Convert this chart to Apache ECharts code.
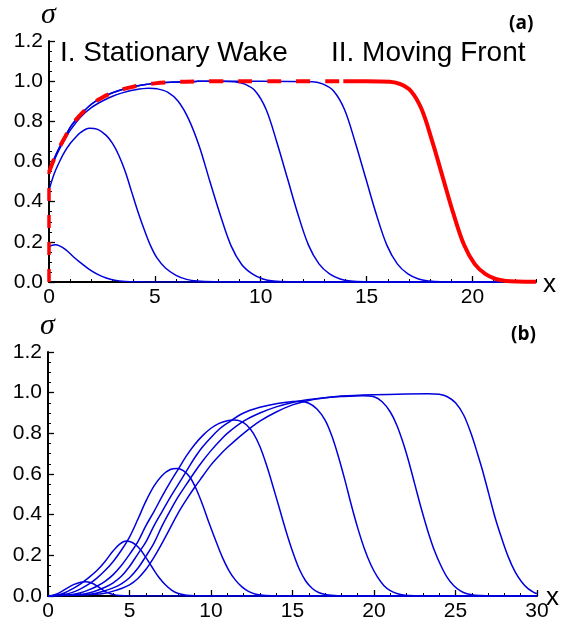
<!DOCTYPE html>
<html>
<head>
<meta charset="utf-8">
<script src="https://cdn.jsdelivr.net/npm/echarts@6/dist/echarts.min.js"></script>
<style>
  html, body { margin: 0; padding: 0; background: #ffffff; }
  #chart { width: 570px; height: 627px; }
</style>
</head>
<body>
<div id="chart"></div>
<script>
// ---------- panel (a): stationary wake and moving front ----------
const topMajorX = [0, 5, 10, 15, 20];
const topMinorX = [0,1,2,3,4,5,6,7,8,9,10,11,12,13,14,15,16,17,18,19,20,21,22,23];

const wake1 = [[0,0.175],[0.15,0.183],[0.3,0.186],[0.5,0.18],[0.8,0.16],[1.15,0.126],[1.5,0.095],[1.9,0.063],[2.3,0.038],[2.7,0.02],[3.1,0.009],[3.6,0.003],[4.2,0.001],[5,0],[23,0]];
const wake2 = [[0,0.457],[0.25,0.54],[0.5,0.60],[0.75,0.65],[1.0,0.69],[1.25,0.72],[1.5,0.745],[1.9,0.766],[2.3,0.76],[2.7,0.73],[3.0,0.69],[3.3,0.63],[3.6,0.55],[3.9,0.45],[4.2,0.35],[4.5,0.26],[4.8,0.18],[5.1,0.12],[5.5,0.07],[6.0,0.033],[6.5,0.013],[7.0,0.005],[8,0.001],[9,0],[23,0]];
const wake3 = [[0,0.54],[0.25,0.607],[0.5,0.663],[0.75,0.71],[1.0,0.755],[1.5,0.822],[2.0,0.868],[2.5,0.9],[3.0,0.925],[3.5,0.943],[4.0,0.956],[4.7,0.965],[5.1,0.962],[5.6,0.945],[6.1,0.9],[6.6,0.81],[7.1,0.675],[7.6,0.5],[8.1,0.33],[8.6,0.18],[9.1,0.087],[9.6,0.04],[10.1,0.015],[10.6,0.005],[11.5,0.001],[12.5,0],[23,0]];
const wake4 = [[0,0.547],[0.25,0.615],[0.5,0.672],[0.75,0.72],[1.0,0.77],[1.25,0.805],[1.5,0.835],[2.0,0.885],[2.5,0.918],[3.0,0.942],[3.5,0.96],[4.0,0.973],[4.5,0.982],[5.0,0.989],[6.0,0.996],[7.0,0.999],[8.0,1.0],[8.75,0.997],[9.25,0.985],[9.75,0.95],[10.25,0.86],[10.75,0.70],[11.25,0.52],[11.75,0.34],[12.25,0.185],[12.75,0.09],[13.25,0.04],[13.75,0.015],[14.25,0.005],[15,0.001],[16,0],[23,0]];
const wake5 = [[0,0.547],[0.25,0.615],[0.5,0.672],[0.75,0.72],[1.0,0.77],[1.25,0.805],[1.5,0.835],[2.0,0.885],[2.5,0.918],[3.0,0.942],[3.5,0.96],[4.0,0.973],[4.5,0.982],[5.0,0.989],[6.0,0.996],[7.0,0.999],[8.0,1.0],[10,1.0],[12.45,0.997],[12.95,0.985],[13.45,0.95],[13.95,0.86],[14.45,0.70],[14.95,0.52],[15.45,0.34],[15.95,0.185],[16.45,0.09],[16.95,0.04],[17.45,0.015],[17.95,0.005],[18.5,0.001],[19.5,0],[23,0]];
const wakeEdge = [[0,0],[0,0.547]];
const wakeProfile = [[0,0.547],[0.25,0.615],[0.5,0.672],[0.75,0.72],[1.0,0.77],[1.25,0.805],[1.5,0.835],[2.0,0.885],[2.5,0.918],[3.0,0.942],[3.5,0.96],[4.0,0.973],[4.5,0.982],[5.0,0.989],[6.0,0.996],[7.0,0.999],[8.0,1.0],[10,1.0],[12,1.0],[13.9,1.0]];
const movingFront = [[13.9,1.0],[15,1.0],[16.1,0.997],[16.6,0.985],[17.1,0.95],[17.6,0.86],[18.1,0.70],[18.6,0.52],[19.1,0.34],[19.6,0.185],[20.1,0.09],[20.6,0.04],[21.1,0.015],[21.6,0.005],[22.1,0.002],[23,0.001]];

// ---------- panel (b): growing pulse ----------
const pulse1 = [[0,0],[0.4,0.006],[0.8,0.02],[1.2,0.04],[1.6,0.057],[2.0,0.068],[2.3,0.07],[2.6,0.066],[3.0,0.05],[3.4,0.028],[3.8,0.012],[4.2,0.004],[4.8,0.001],[5.5,0],[30,0]];
const pulse2 = [[0,0],[0.5,0.004],[1.0,0.015],[1.5,0.035],[2.0,0.06],[2.5,0.09],[3.0,0.125],[3.5,0.17],[4.0,0.222],[4.4,0.255],[4.8,0.27],[5.2,0.262],[5.6,0.235],[6.0,0.19],[6.4,0.14],[6.8,0.092],[7.2,0.055],[7.6,0.028],[8.0,0.012],[8.5,0.004],[9,0.001],[10,0],[30,0]];
const pulse3 = [[0,0],[1,0.008],[1.5,0.018],[2.0,0.035],[2.5,0.058],[3.0,0.088],[3.5,0.125],[4.0,0.17],[4.5,0.225],[5.0,0.29],[5.5,0.375],[6.0,0.465],[6.5,0.54],[7.0,0.593],[7.5,0.622],[7.9,0.627],[8.3,0.617],[8.7,0.585],[9.1,0.525],[9.5,0.445],[9.9,0.355],[10.3,0.27],[10.7,0.19],[11.1,0.125],[11.5,0.078],[11.9,0.045],[12.3,0.023],[12.7,0.01],[13.2,0.004],[14,0.001],[15,0],[30,0]];
const pulse4 = [[0,0],[1.5,0.008],[2.0,0.016],[2.5,0.03],[3.0,0.048],[3.5,0.072],[4.0,0.105],[4.5,0.15],[5.0,0.205],[5.5,0.265],[6.0,0.345],[6.5,0.415],[7.0,0.49],[7.5,0.56],[8.0,0.625],[8.5,0.69],[9.0,0.745],[9.5,0.79],[10.0,0.825],[10.5,0.849],[11.0,0.862],[11.4,0.865],[11.8,0.86],[12.2,0.84],[12.6,0.80],[13.0,0.735],[13.4,0.645],[13.8,0.54],[14.2,0.43],[14.6,0.32],[15.0,0.22],[15.4,0.135],[15.8,0.075],[16.2,0.038],[16.6,0.017],[17.1,0.006],[17.8,0.001],[18.5,0],[30,0]];
const pulse5 = [[0,0],[2.0,0.008],[2.5,0.015],[3.0,0.027],[3.5,0.043],[4.0,0.065],[4.5,0.097],[5.0,0.145],[5.5,0.205],[6.0,0.265],[6.5,0.345],[7.0,0.415],[7.5,0.485],[8.0,0.55],[8.5,0.615],[9.0,0.68],[9.5,0.735],[10.0,0.78],[10.5,0.82],[11.0,0.85],[12.0,0.9],[13.0,0.928],[14.0,0.946],[15.0,0.956],[15.46,0.958],[16.0,0.948],[16.5,0.92],[17.0,0.865],[17.4,0.79],[17.8,0.69],[18.2,0.575],[18.6,0.45],[19.0,0.335],[19.4,0.235],[19.8,0.155],[20.2,0.095],[20.6,0.052],[21.0,0.026],[21.4,0.012],[21.9,0.004],[22.5,0.001],[23.5,0],[30,0]];
const pulse6 = [[0,0],[2.5,0.008],[3.0,0.015],[3.5,0.026],[4.0,0.04],[4.5,0.06],[5.0,0.09],[5.5,0.135],[6.0,0.195],[6.5,0.26],[7.0,0.345],[7.5,0.42],[8.0,0.49],[8.5,0.55],[9.0,0.61],[9.5,0.665],[10.0,0.715],[10.5,0.76],[11.0,0.8],[12.0,0.86],[13.0,0.9],[14.0,0.93],[15.0,0.952],[16.0,0.966],[17.0,0.975],[18.0,0.981],[19.3,0.985],[20.0,0.98],[20.5,0.955],[21.0,0.905],[21.4,0.84],[21.8,0.75],[22.1,0.67],[22.5,0.55],[22.9,0.43],[23.3,0.32],[23.7,0.225],[24.1,0.15],[24.5,0.09],[24.9,0.05],[25.3,0.025],[25.7,0.011],[26.2,0.004],[27,0.001],[28,0],[30,0]];
const pulse7 = [[0,0],[3.0,0.008],[3.5,0.014],[4.0,0.024],[4.5,0.037],[5.0,0.055],[5.5,0.085],[6.0,0.13],[6.5,0.19],[7.0,0.26],[7.5,0.335],[8.0,0.41],[8.5,0.475],[9.0,0.535],[9.5,0.59],[10.0,0.645],[10.5,0.69],[11.0,0.73],[12.0,0.8],[13.0,0.86],[14.0,0.905],[15.0,0.94],[16.0,0.962],[17.0,0.975],[18.0,0.983],[20.0,0.99],[22.0,0.994],[23.3,0.995],[24.0,0.992],[24.5,0.98],[25.0,0.95],[25.5,0.89],[25.95,0.8],[26.35,0.7],[26.65,0.62],[27.05,0.5],[27.45,0.38],[27.85,0.28],[28.25,0.19],[28.65,0.12],[29.05,0.07],[29.45,0.036],[29.85,0.016],[30,0.012]];

const FONT = "'Liberation Sans', Arial, sans-serif";
const BLUE = '#0000dd';
const RED = '#ff0000';

const chart = echarts.init(document.getElementById('chart'), null, { renderer: 'canvas' });

function blueLine(name, data, xi, yi) {
  return {
    name: name, type: 'line', data: data, xAxisIndex: xi, yAxisIndex: yi,
    smooth: 0.35, symbol: 'none', silent: true,
    lineStyle: { color: BLUE, width: 1.5 }
  };
}

const majorTickStyle = { color: '#000', width: 1.3 };
const minorTickStyle = { color: '#000', width: 1 };
const labelStyle = { color: '#000', fontFamily: FONT, fontSize: 21 };

const option = {
  animation: false,
  backgroundColor: '#ffffff',
  grid: [
    { left: 49, top: 41, width: 487, height: 241 },
    { left: 48, top: 352, width: 489, height: 244 }
  ],
  xAxis: [
    {
      gridIndex: 0, type: 'value', position: 'bottom', min: 0, max: 23,
      axisLine: { show: true, lineStyle: { color: '#000', width: 2 } },
      axisTick: { show: true, inside: true, length: 6, customValues: topMajorX, lineStyle: majorTickStyle },
      axisLabel: Object.assign({ customValues: topMajorX, margin: 5 }, labelStyle),
      splitLine: { show: false }
    },
    {
      gridIndex: 0, type: 'value', position: 'bottom', min: 0, max: 23,
      axisLine: { show: false },
      axisTick: { show: true, inside: true, length: 3, customValues: topMinorX, lineStyle: minorTickStyle },
      axisLabel: { show: false },
      splitLine: { show: false }
    },
    {
      gridIndex: 1, type: 'value', position: 'bottom', min: 0, max: 30, interval: 5,
      axisLine: { show: true, lineStyle: { color: '#000', width: 2 } },
      axisTick: { show: true, inside: true, length: 6, lineStyle: majorTickStyle },
      minorTick: { show: true, splitNumber: 5, length: 3, lineStyle: minorTickStyle },
      axisLabel: Object.assign({ margin: 5 }, labelStyle),
      splitLine: { show: false }
    }
  ],
  yAxis: [0, 1].map(function (g) {
    return {
      gridIndex: g, type: 'value', position: 'left', min: 0, max: 1.2, interval: 0.2,
      axisLine: { show: true, lineStyle: { color: '#000', width: 2 } },
      axisTick: { show: true, inside: true, length: 6, lineStyle: majorTickStyle },
      minorTick: { show: true, splitNumber: 4, length: 3, lineStyle: minorTickStyle },
      axisLabel: Object.assign({ margin: 6, formatter: function (v) { return v.toFixed(1); } }, labelStyle),
      splitLine: { show: false }
    };
  }),
  series: [
    blueLine('wake1', wake1, 0, 0),
    blueLine('wake2', wake2, 0, 0),
    blueLine('wake3', wake3, 0, 0),
    blueLine('wake4', wake4, 0, 0),
    blueLine('wake5', wake5, 0, 0),
    {
      name: 'wakeEdge', type: 'line', data: wakeEdge, xAxisIndex: 0, yAxisIndex: 0,
      symbol: 'none', silent: true, z: 4,
      lineStyle: { color: RED, width: 3.5, type: [13, 14] }
    },
    {
      name: 'wakeProfile', type: 'line', data: wakeProfile, xAxisIndex: 0, yAxisIndex: 0,
      smooth: 0.35, symbol: 'none', silent: true, z: 4,
      lineStyle: { color: RED, width: 4, type: [14, 15] }
    },
    {
      name: 'movingFront', type: 'line', data: movingFront, xAxisIndex: 0, yAxisIndex: 0,
      smooth: 0.35, symbol: 'none', silent: true, z: 4,
      lineStyle: { color: RED, width: 4 }
    },
    blueLine('p1', pulse1, 2, 1),
    blueLine('p2', pulse2, 2, 1),
    blueLine('p3', pulse3, 2, 1),
    blueLine('p4', pulse4, 2, 1),
    blueLine('p5', pulse5, 2, 1),
    blueLine('p6', pulse6, 2, 1),
    blueLine('p7', pulse7, 2, 1)
  ],
  graphic: [
    { type: 'text', left: 41, top: 0, style: { text: '\u03c3', font: "italic 30px 'Liberation Serif', 'DejaVu Serif', serif", fill: '#000' } },
    { type: 'text', left: 40, top: 311, style: { text: '\u03c3', font: "italic 30px 'Liberation Serif', 'DejaVu Serif', serif", fill: '#000' } },
    { type: 'text', left: 543, top: 272, style: { text: 'x', font: "26px " + FONT, fill: '#000' } },
    { type: 'text', left: 546, top: 585, style: { text: 'x', font: "26px " + FONT, fill: '#000' } },
    { type: 'text', left: 509, top: 14, style: { text: '(a)', font: "bold 19px 'Open Sans', " + FONT, fill: '#000' } },
    { type: 'text', left: 511, top: 325, style: { text: '(b)', font: "bold 19px 'Open Sans', " + FONT, fill: '#000' } },
    { type: 'text', left: 60, top: 39, style: { text: 'I. Stationary Wake', font: "28px " + FONT, fill: '#000' } },
    { type: 'text', left: 331, top: 39, style: { text: 'II. Moving Front', font: "28px " + FONT, fill: '#000' } }
  ]
};

chart.setOption(option);
</script>
</body>
</html>
